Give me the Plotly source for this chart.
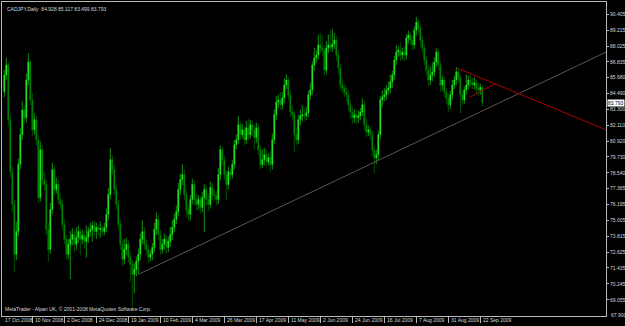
import plotly.graph_objects as go

# ---- data (CADJPY daily) ----
first_bar = 2
opens = [84.60, 85.86, 86.61, 82.51, 78.63, 76.18, 72.45, 74.16, 79.16, 81.39,
         83.25, 82.66, 85.49, 86.83, 84.00, 81.76, 82.51, 81.02, 76.70, 80.27,
         78.04, 77.67, 74.31, 72.82, 75.80, 78.78, 77.29, 77.67, 76.55, 76.18,
         74.69, 73.57, 72.45, 73.20, 73.57, 73.94, 73.20, 73.72, 74.16, 73.57,
         73.87, 73.42, 73.72, 74.16, 74.31, 74.61, 74.16, 74.46, 74.31, 74.39,
         74.16, 74.46, 75.43, 76.92, 79.53, 78.78, 77.29, 76.18, 74.69, 73.20,
         72.08, 72.82, 73.20, 72.23, 71.71, 70.96, 71.33, 71.93, 72.45, 73.57,
         74.16, 73.20, 72.82, 72.23, 72.45, 72.97, 74.31, 75.06, 73.94, 72.82,
         73.20, 73.57, 72.97, 73.42, 73.94, 74.46, 75.06, 75.65, 77.29, 78.04,
         78.41, 76.92, 75.80, 75.43, 76.55, 77.67, 76.55, 76.18, 76.55, 75.95,
         76.70, 77.29, 76.55, 76.18, 77.44, 76.92, 76.85, 76.55, 78.41, 80.27,
         79.53, 78.41, 77.67, 78.63, 78.41, 79.16, 80.65, 81.02, 82.14, 81.39,
         81.76, 81.02, 81.91, 81.39, 82.14, 81.76, 81.17, 81.91, 80.27, 79.16,
         79.53, 79.90, 79.38, 79.68, 79.16, 81.02, 82.88, 83.85, 84.00, 83.63,
         84.15, 85.12, 85.49, 84.37, 83.10, 82.88, 81.39, 81.02, 82.51, 82.81,
         82.88, 82.81, 83.03, 84.37, 84.74, 86.61, 87.13, 87.35, 88.10, 87.87,
         87.72, 86.23, 87.87, 88.10, 87.95, 88.17, 88.47, 87.35, 86.38, 85.12,
         84.89, 84.59, 84.37, 83.63, 83.10, 82.66, 82.88, 82.66, 82.81, 83.10,
         83.63, 82.14, 81.61, 81.76, 81.39, 80.27, 79.68, 79.90, 81.39, 84.00,
         84.22, 84.37, 84.74, 84.89, 85.34, 85.86, 86.98, 87.57, 87.72, 87.35,
         87.57, 87.35, 88.62, 88.84, 88.47, 88.10, 89.21, 89.81, 89.36, 88.47,
         87.87, 86.98, 86.23, 85.49, 85.86, 86.08, 86.83, 87.57, 86.61, 85.12,
         85.49, 84.59, 84.15, 83.63, 84.37, 85.12, 85.49, 86.08, 85.64, 84.37,
         84.00, 84.74, 85.12, 85.49, 85.34, 85.12, 85.26, 84.89, 84.75, 84.928]
highs = [86.25, 87.15, 86.8, 82.9, 79.0, 76.5, 74.9, 79.6, 81.9, 83.9,
         83.6, 86.0, 87.5, 87.0, 84.5, 83.0, 82.8, 81.4, 80.9, 80.6,
         78.6, 78.0, 74.8, 76.3, 79.3, 79.1, 78.2, 78.0, 77.0, 76.5,
         75.1, 73.9, 73.6, 74.2, 74.4, 74.3, 74.5, 74.6, 74.4, 74.3,
         74.2, 74.6, 74.5, 74.8, 74.9, 75.0, 74.8, 74.7, 74.9, 74.6,
         74.8, 75.9, 77.4, 80.4, 79.9, 79.1, 77.6, 76.5, 75.0, 73.5,
         73.6, 73.7, 73.5, 72.6, 72.0, 71.8, 72.3, 72.9, 74.0, 75.0,
         74.5, 73.6, 73.1, 72.8, 73.3, 74.8, 75.6, 75.4, 74.3, 73.6,
         74.0, 73.9, 73.8, 74.5, 75.0, 75.5, 76.1, 77.8, 78.5, 79.2,
         78.8, 77.3, 76.2, 76.9, 78.1, 78.0, 77.0, 76.9, 76.8, 77.1,
         77.7, 77.6, 77.0, 77.9, 77.8, 77.3, 77.2, 78.9, 80.6, 80.5,
         79.8, 78.7, 79.0, 78.9, 79.5, 81.0, 81.4, 82.8, 82.4, 82.2,
         82.0, 82.4, 82.6, 82.5, 82.4, 82.1, 82.3, 82.2, 80.6, 80.3,
         80.4, 80.3, 80.0, 80.2, 81.5, 83.3, 84.3, 84.4, 84.6, 84.6,
         85.6, 85.9, 85.7, 84.7, 83.5, 83.2, 81.9, 82.9, 83.3, 83.6,
         83.4, 83.5, 84.7, 85.3, 86.9, 87.9, 87.7, 88.9, 89.0, 88.8,
         88.1, 88.4, 88.9, 89.2, 89.3, 89.0, 88.8, 87.7, 86.7, 85.6,
         85.2, 85.0, 84.7, 84.0, 83.5, 83.3, 83.2, 83.2, 83.4, 84.1,
         84.0, 82.6, 82.1, 82.0, 81.7, 80.6, 80.3, 81.7, 84.3, 84.7,
         84.9, 85.1, 85.4, 85.9, 86.2, 87.3, 88.1, 88.0, 88.3, 87.9,
         88.0, 88.9, 89.2, 89.1, 88.8, 89.5, 90.2, 90.0, 89.6, 88.8,
         88.2, 87.3, 86.6, 86.5, 86.8, 87.2, 87.9, 87.8, 86.9, 85.8,
         85.7, 84.9, 84.5, 84.7, 85.5, 85.8, 86.45, 86.3, 85.9, 84.7,
         85.0, 85.9, 85.8, 85.9, 85.6, 85.7, 85.5, 85.3, 85.2, 85.117]
lows = [84.2, 85.5, 82.0, 78.2, 75.6, 71.1, 72.0, 73.8, 78.8, 81.0,
        82.2, 82.3, 85.1, 83.6, 81.3, 81.4, 80.6, 76.3, 76.4, 77.6,
        77.2, 73.9, 71.9, 72.5, 75.5, 76.9, 77.0, 76.2, 75.8, 74.3,
        73.2, 72.0, 72.1, 70.6, 73.1, 72.6, 72.8, 73.3, 72.4, 73.2,
        72.9, 72.2, 73.3, 73.8, 73.4, 73.8, 73.6, 73.9, 73.7, 73.8,
        73.9, 74.1, 75.0, 76.6, 78.4, 76.9, 75.8, 74.3, 72.8, 71.6,
        71.7, 72.4, 71.8, 70.4, 68.35, 69.5, 70.8, 71.0, 72.0, 73.2,
        72.8, 72.4, 71.8, 71.9, 72.0, 72.6, 73.9, 73.5, 72.4, 72.5,
        72.8, 72.5, 72.6, 73.0, 73.5, 74.1, 74.7, 75.3, 76.9, 77.6,
        76.5, 75.2, 74.9, 75.0, 76.2, 76.1, 75.7, 75.8, 75.5, 75.6,
        74.1, 76.1, 75.7, 75.9, 76.5, 76.4, 76.1, 76.2, 78.0, 79.1,
        78.0, 76.5, 77.3, 78.0, 78.1, 78.8, 80.3, 80.7, 81.0, 81.1,
        80.6, 80.7, 81.0, 81.1, 81.3, 80.3, 80.8, 79.9, 78.8, 78.9,
        79.1, 79.0, 79.1, 78.6, 78.8, 80.7, 82.5, 83.4, 83.2, 83.3,
        83.8, 84.8, 84.0, 82.7, 82.5, 80.1, 80.6, 80.7, 82.1, 82.4,
        82.4, 82.5, 82.7, 84.0, 84.4, 86.2, 86.8, 87.0, 87.5, 87.3,
        85.8, 85.9, 87.5, 87.6, 87.6, 87.8, 86.9, 85.9, 84.7, 84.5,
        84.2, 83.9, 83.2, 82.6, 82.2, 82.3, 82.2, 82.3, 82.5, 82.8,
        81.7, 81.2, 81.3, 81.0, 79.8, 78.5, 79.2, 79.5, 81.1, 83.5,
        83.9, 84.0, 84.4, 84.5, 84.9, 85.5, 86.6, 87.2, 86.9, 87.0,
        86.9, 87.0, 88.2, 88.1, 87.7, 87.8, 88.8, 88.9, 88.0, 87.5,
        86.6, 85.8, 85.0, 85.1, 85.4, 85.7, 86.5, 86.2, 84.6, 84.7,
        84.2, 83.7, 83.1, 83.3, 84.0, 84.8, 85.1, 85.3, 83.0, 83.6,
        83.7, 84.4, 84.8, 85.0, 84.8, 84.8, 84.5, 84.3, 84.4, 83.499]
closes = [85.86, 86.61, 82.51, 78.63, 76.18, 72.45, 74.16, 79.16, 81.39, 83.25,
          82.66, 85.49, 86.83, 84.00, 81.76, 82.51, 81.02, 76.70, 80.27, 78.04,
          77.67, 74.31, 72.82, 75.80, 78.78, 77.29, 77.67, 76.55, 76.18, 74.69,
          73.57, 72.45, 73.20, 73.57, 73.94, 73.20, 73.72, 74.16, 73.57, 73.87,
          73.42, 73.72, 74.16, 74.31, 74.61, 74.16, 74.46, 74.31, 74.39, 74.16,
          74.46, 75.43, 76.92, 79.53, 78.78, 77.29, 76.18, 74.69, 73.20, 72.08,
          72.82, 73.20, 72.23, 71.71, 70.96, 71.33, 71.93, 72.45, 73.57, 74.16,
          73.20, 72.82, 72.23, 72.45, 72.97, 74.31, 75.06, 73.94, 72.82, 73.20,
          73.57, 72.97, 73.42, 73.94, 74.46, 75.06, 75.65, 77.29, 78.04, 78.41,
          76.92, 75.80, 75.43, 76.55, 77.67, 76.55, 76.18, 76.55, 75.95, 76.70,
          77.29, 76.55, 76.18, 77.44, 76.92, 76.85, 76.55, 78.41, 80.27, 79.53,
          78.41, 77.67, 78.63, 78.41, 79.16, 80.65, 81.02, 82.14, 81.39, 81.76,
          81.02, 81.91, 81.39, 82.14, 81.76, 81.17, 81.91, 80.27, 79.16, 79.53,
          79.90, 79.38, 79.68, 79.16, 81.02, 82.88, 83.85, 84.00, 83.63, 84.15,
          85.12, 85.49, 84.37, 83.10, 82.88, 81.39, 81.02, 82.51, 82.81, 82.88,
          82.81, 83.03, 84.37, 84.74, 86.61, 87.13, 87.35, 88.10, 87.87, 87.72,
          86.23, 87.87, 88.10, 87.95, 88.17, 88.47, 87.35, 86.38, 85.12, 84.89,
          84.59, 84.37, 83.63, 83.10, 82.66, 82.88, 82.66, 82.81, 83.10, 83.63,
          82.14, 81.61, 81.76, 81.39, 80.27, 79.68, 79.90, 81.39, 84.00, 84.22,
          84.37, 84.74, 84.89, 85.34, 85.86, 86.98, 87.57, 87.72, 87.35, 87.57,
          87.35, 88.62, 88.84, 88.47, 88.10, 89.21, 89.81, 89.36, 88.47, 87.87,
          86.98, 86.23, 85.49, 85.86, 86.08, 86.83, 87.57, 86.61, 85.12, 85.49,
          84.59, 84.15, 83.63, 84.37, 85.12, 85.49, 86.08, 85.64, 84.37, 84.00,
          84.74, 85.12, 85.49, 85.34, 85.12, 85.26, 84.89, 84.75, 84.93, 83.793]
bar_index = list(range(first_bar, first_bar + len(closes)))

date_tick_bars = [0, 16, 32, 48, 64, 80, 96, 112, 128, 144, 160, 176, 192, 208, 224, 240]
date_labels = ["17 Oct 2008", "10 Nov 2008", "2 Dec 2008", "24 Dec 2008", "19 Jan 2009",
               "10 Feb 2009", "4 Mar 2009", "26 Mar 2009", "17 Apr 2009", "11 May 2009",
               "2 Jun 2009", "24 Jun 2009", "16 Jul 2009", "7 Aug 2009", "31 Aug 2009",
               "22 Sep 2009"]
price_ticks = [90.405, 89.215, 88.025, 86.835, 85.680, 84.490, 83.300, 82.110, 80.920,
               79.730, 78.540, 77.365, 76.195, 75.005, 73.815, 72.625, 71.435, 70.245,
               69.055, 67.900]

support_x = [69, 302.85]
support_y = [70.95, 87.57]
resist_x = [228.35, 302.85]
resist_y = [86.38, 81.76]
inner_x = [234.85, 247.5]
inner_y = [84.22, 85.2]

last_price = 83.793
header = "CADJPY,Daily  84.928 85.117 83.499 83.793"
footer = "MetaTrader - Alpari UK, \u00a9 2001-2008 MetaQuotes Software Corp."

FONT = "Liberation Sans"
TXT = "#d8d8d8"
FRAME = "#b8b8b8"
FS = 5

fig = go.Figure()
fig.add_trace(go.Candlestick(
    x=bar_index, open=opens, high=highs, low=lows, close=closes,
    increasing=dict(line=dict(color="#22ee22", width=0.6), fillcolor="#33ff33"),
    decreasing=dict(line=dict(color="#008a00", width=0.6), fillcolor="#009900"),
    whiskerwidth=0, showlegend=False, hoverinfo="skip"))
fig.add_trace(go.Scatter(x=support_x, y=support_y, mode="lines",
                         line=dict(color="#5a5650", width=1), showlegend=False, hoverinfo="skip"))
fig.add_trace(go.Scatter(x=resist_x, y=resist_y, mode="lines",
                         line=dict(color="#a80000", width=1), showlegend=False, hoverinfo="skip"))
fig.add_trace(go.Scatter(x=inner_x, y=inner_y, mode="lines",
                         line=dict(color="#a80000", width=1), showlegend=False, hoverinfo="skip"))

annotations = [
    dict(text=header, xref="paper", yref="paper", x=0.005, y=1.0, yshift=-2, xanchor="left",
         yanchor="top", showarrow=False, font=dict(size=FS, color=TXT, family=FONT)),
    dict(text=footer, xref="paper", yref="paper", x=0.002, y=0.0, yshift=2, xanchor="left",
         yanchor="bottom", showarrow=False, font=dict(size=FS, color=TXT, family=FONT)),
    dict(text="%.3f" % last_price, xref="paper", yref="y", x=1, y=last_price,
         xanchor="left", yanchor="middle", xshift=1, showarrow=False, bgcolor="#ffffff",
         borderpad=0, font=dict(size=FS, color="#000000", family=FONT)),
    # bottom price label sits on the frame edge; drawn explicitly so it is not dropped
    dict(text="%.3f" % price_ticks[-1], xref="paper", yref="y", x=1, y=price_ticks[-1],
         xanchor="left", yanchor="middle", xshift=3, showarrow=False,
         font=dict(size=FS, color=TXT, family=FONT)),
]
for b, lab in zip(date_tick_bars, date_labels):
    annotations.append(dict(text=lab, xref="x", yref="paper", x=max(b, 0.85), y=0,
                            xanchor="left", yanchor="top", xshift=1, yshift=1,
                            showarrow=False, font=dict(size=FS, color=TXT, family=FONT)))

fig.update_layout(
    width=625, height=326,
    margin=dict(l=2, r=19, t=2, b=10, autoexpand=False),
    paper_bgcolor="#000000", plot_bgcolor="#000000",
    font=dict(family=FONT, size=FS, color=TXT),
    xaxis=dict(range=[0.85, 302.85], rangeslider=dict(visible=False), showgrid=False,
               zeroline=False, tickvals=date_tick_bars[1:], showticklabels=False,
               ticks="outside", ticklen=6, tickcolor=FRAME,
               showline=True, linecolor=FRAME,
               linewidth=1, mirror=True, automargin=False, fixedrange=True),
    yaxis=dict(range=[67.84, 91.32], side="right", showgrid=False, zeroline=False,
               tickvals=price_ticks[:-1], ticktext=["%.3f" % v for v in price_ticks[:-1]],
               ticks="outside", ticklen=2, tickcolor=FRAME,
               tickfont=dict(size=FS, color=TXT, family=FONT), showline=True, linecolor=FRAME,
               linewidth=1, mirror=True, automargin=False, fixedrange=True),
    annotations=annotations,
)
fig.write_html("out.html")
